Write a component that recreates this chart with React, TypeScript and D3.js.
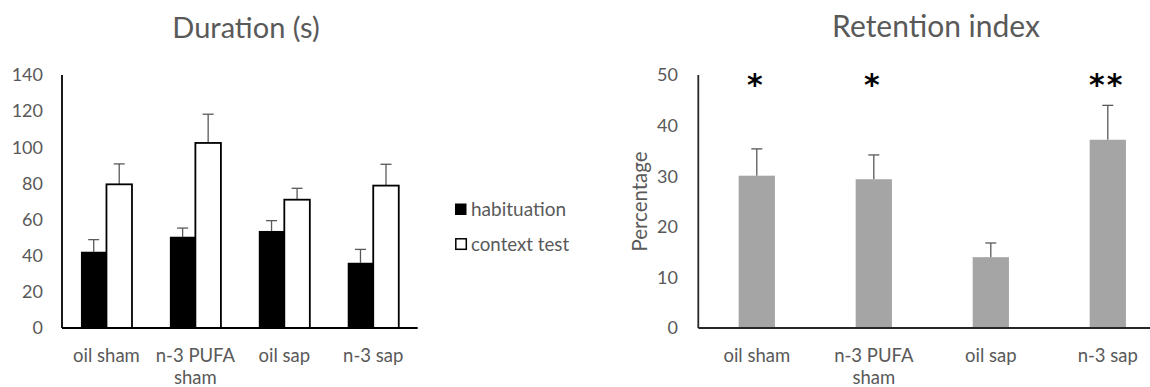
import React from "react";
import * as d3 from "d3";

const categories = ["oil sham", "n-3 PUFA sham", "oil sap", "n-3 sap"];
const categoryLines = [["oil sham"], ["n-3 PUFA", "sham"], ["oil sap"], ["n-3 sap"]];
const seriesNames = ["habituation", "context test"];
const habituation = [42.2, 50.5, 53.7, 36.1];
const habituationErr = [6.7, 4.8, 5.7, 7.4];
const contextTest = [79.5, 102.4, 71.0, 78.8];
const contextTestErr = [11.3, 15.9, 6.3, 11.8];
const leftTicks = [0, 20, 40, 60, 80, 100, 120, 140];
const retention = [30.1, 29.4, 14.0, 37.2];
const retentionErr = [5.3, 4.8, 2.8, 6.8];
const significance = ["*", "*", "", "**"];
const rightTicks = [0, 10, 20, 30, 40, 50];

const FONT = "Lato, 'Open Sans', sans-serif";
const TXT = "#595959";
const ERR = "#595959";

function ErrorBar({ x, y0, y1, cap }: { x: number; y0: number; y1: number; cap: number }) {
  return (
    <g stroke={ERR} strokeWidth={1.3}>
      <line x1={x} x2={x} y1={y0} y2={y1} />
      <line x1={x - cap / 2} x2={x + cap / 2} y1={y1} y2={y1} />
    </g>
  );
}

export default function App() {
  // Left chart
  const yL = d3.scaleLinear().domain([0, 140]).range([328, 75]);
  const xL = d3.scaleBand<string>().domain(categories).range([62, 417.7]).paddingInner(0.426).paddingOuter(0.213);
  const xSub = d3.scaleBand<string>().domain(seriesNames).range([0, xL.bandwidth()]);
  const leftSeries = [
    { name: seriesNames[0], values: habituation, errs: habituationErr },
    { name: seriesNames[1], values: contextTest, errs: contextTestErr },
  ];

  // Right chart
  const yR = d3.scaleLinear().domain([0, 50]).range([328, 75]);
  const xR = d3.scaleBand<string>().domain(categories).range([698.3, 1166.3]).paddingInner(0.69).paddingOuter(0.345);

  return (
    <svg width={1150} height={387} style={{ position: "absolute", left: 0, top: 0, background: "#fff" }} fontFamily={FONT}>
      <rect x={0} y={0} width={1150} height={387} fill="#fff" />
      {/* LEFT */}
      <text x={246} y={37.5} textAnchor="middle" fontSize={29} fill={TXT}>Duration (s)</text>
      {leftTicks.map((t) => (
        <text key={t} x={43} y={yL(t)} dy="0.35em" textAnchor="end" fontSize={18} fill={TXT}>{t}</text>
      ))}
      {leftSeries.map((s, si) =>
        categories.map((c, i) => {
          const x = (xL(c) as number) + (xSub(s.name) as number);
          const w = xSub.bandwidth();
          const isCtx = si === 1;
          return (
            <g key={s.name + c}>
              <ErrorBar x={x + w / 2} y0={yL(s.values[i])} y1={yL(s.values[i] + s.errs[i])} cap={11} />
              <rect
                x={x}
                y={yL(s.values[i])}
                width={w}
                height={yL(0) - yL(s.values[i])}
                fill={isCtx ? "#fff" : "#000"}
                stroke="#000"
                strokeWidth={isCtx ? 1.8 : 0}
              />
            </g>
          );
        })
      )}
      <line x1={62} x2={62} y1={75} y2={328} stroke="#000" strokeWidth={1.8} />
      <line x1={62} x2={417.7} y1={328} y2={328} stroke="#000" strokeWidth={1.8} />
      {categories.map((c, i) => (
        <text key={c} x={(xL(c) as number) + xL.bandwidth() / 2} y={361.5} textAnchor="middle" fontSize={18.5} fill={TXT}>
          {categoryLines[i].map((l, j) => (
            <tspan key={j} x={(xL(c) as number) + xL.bandwidth() / 2} dy={j === 0 ? 0 : 22.5}>{l}</tspan>
          ))}
        </text>
      ))}
      {/* legend */}
      <rect x={455} y={203.5} width={11.5} height={11.5} fill="#000" />
      <text x={471} y={209.3} dy="0.35em" fontSize={19} fill={TXT}>{seriesNames[0]}</text>
      <rect x={455.8} y={238.8} width={10.5} height={10.5} fill="#fff" stroke="#000" strokeWidth={1.5} />
      <text x={471} y={244.3} dy="0.35em" fontSize={18.7} fill={TXT}>{seriesNames[1]}</text>

      {/* RIGHT */}
      <text x={936} y={36.5} textAnchor="middle" fontSize={30} fill={TXT}>Retention index</text>
      {rightTicks.map((t) => (
        <text key={t} x={678} y={yR(t)} dy="0.35em" textAnchor="end" fontSize={18} fill={TXT}>{t}</text>
      ))}
      <text transform={`translate(647,201.5) rotate(-90)`} textAnchor="middle" fontSize={20.5} fill={TXT}>Percentage</text>
      {categories.map((c, i) => {
        const x = xR(c) as number;
        const w = xR.bandwidth();
        return (
          <g key={c}>
            <ErrorBar x={x + w / 2} y0={yR(retention[i])} y1={yR(retention[i] + retentionErr[i])} cap={11} />
            <rect x={x} y={yR(retention[i])} width={w} height={yR(0) - yR(retention[i])} fill="#a5a5a5" />
            {significance[i] && (
              <text x={x + w / 2 - 1} y={95} textAnchor="middle" fontSize={30} fontWeight="bold" fontFamily="'DejaVu Sans'" fill="#000" letterSpacing={2}>
                {significance[i]}
              </text>
            )}
            <text x={x + w / 2} y={361.5} textAnchor="middle" fontSize={18.5} fill={TXT}>
              {categoryLines[i].map((l, j) => (
                <tspan key={j} x={x + w / 2} dy={j === 0 ? 0 : 22.5}>{l}</tspan>
              ))}
            </text>
          </g>
        );
      })}
      <line x1={698.3} x2={698.3} y1={75} y2={328} stroke="#262626" strokeWidth={1.8} />
      <line x1={698.3} x2={1150} y1={328} y2={328} stroke="#262626" strokeWidth={1.8} />
    </svg>
  );
}
